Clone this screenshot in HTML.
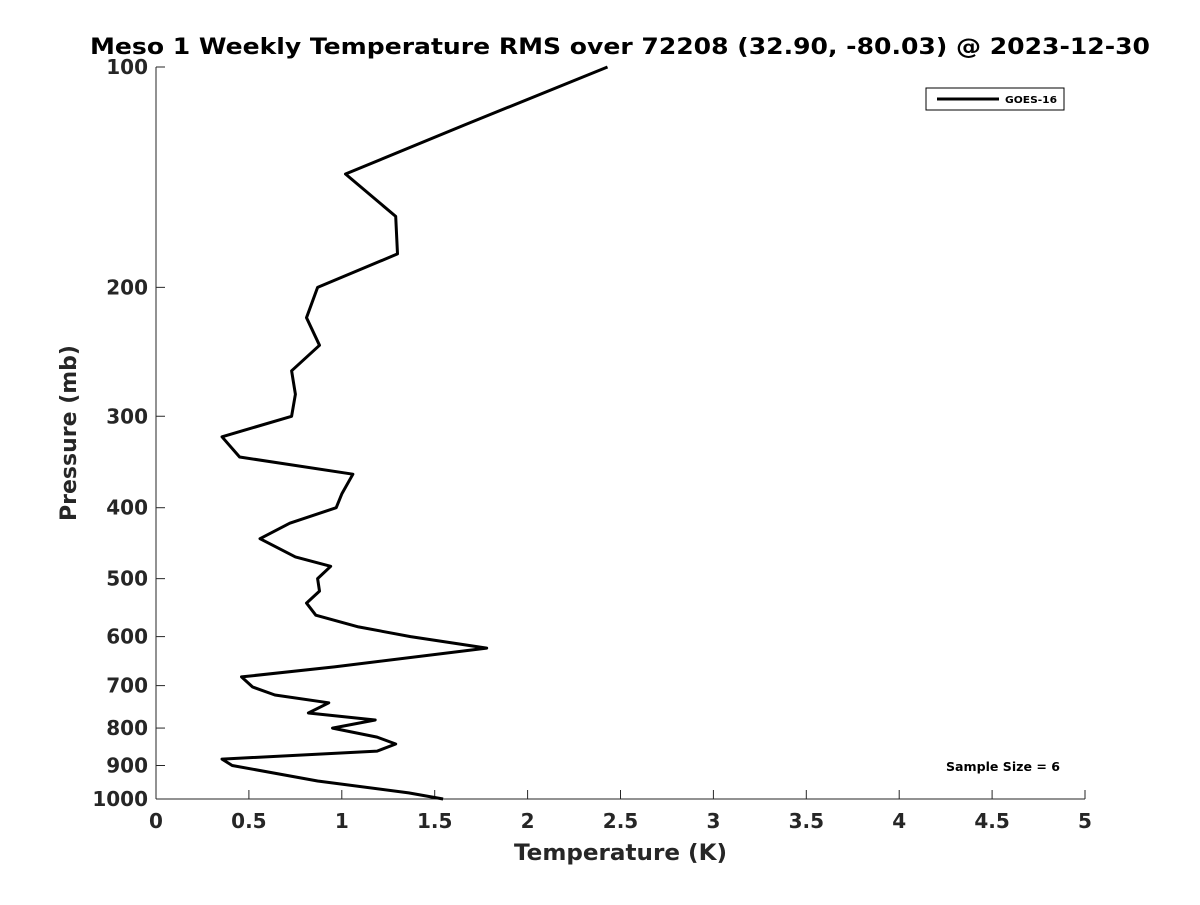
<!DOCTYPE html>
<html><head><meta charset="utf-8"><style>
body{margin:0;background:#fff;}
svg{font-family:"DejaVu Sans","Liberation Sans",sans-serif;font-weight:bold;}
</style></head><body>
<svg id="chart" width="1200" height="900">
<rect width="1200" height="900" fill="#fff"/>
<text x="90" y="54" font-size="22" textLength="1060" lengthAdjust="spacingAndGlyphs">Meso 1 Weekly Temperature RMS over 72208 (32.90, -80.03) @ 2023-12-30</text>
<g id="axes"></g>
<path id="line" fill="none" stroke="#000" stroke-width="3" stroke-linejoin="round"/>
<g>
<rect x="926" y="88" width="138" height="22" fill="#fff" stroke="#000" stroke-width="1"/>
<line x1="937" y1="99" x2="999" y2="99" stroke="#000" stroke-width="3"/>
<text x="1005" y="103" font-size="10" textLength="52" lengthAdjust="spacingAndGlyphs">GOES-16</text>
</g>
<text x="946" y="771" font-size="12" textLength="114" lengthAdjust="spacingAndGlyphs">Sample Size = 6</text>
<text x="514" y="860" font-size="22" textLength="213" lengthAdjust="spacingAndGlyphs" fill="#262626">Temperature (K)</text>
<text transform="translate(76,433) rotate(-90)" text-anchor="middle" font-size="22" fill="#262626">Pressure (mb)</text>
</svg>
<script>
const temps=[2.43,1.66,1.02,1.29,1.30,0.87,0.81,0.88,0.73,0.75,0.73,0.355,0.45,1.06,1.0,0.97,0.72,0.56,0.75,0.94,0.87,0.88,0.81,0.86,1.09,1.37,1.78,0.96,0.46,0.52,0.64,0.93,0.82,1.18,0.95,1.19,1.29,1.19,0.355,0.41,0.87,1.36,1.545];
const pressures=[100,120,140,160,180,200,220,240,260,280,300,320,341,360,383,400,420,441,467,481,500,520,540,561,582,600,622,660,681,703,721,739,763,780,800,823,841,860,882,900,945,981,1000];
const xTicks=[0,0.5,1,1.5,2,2.5,3,3.5,4,4.5,5];
const xTickLabels=["0","0.5","1","1.5","2","2.5","3","3.5","4","4.5","5"];
const yTicks=[100,200,300,400,500,600,700,800,900,1000];
const X0=156,X1=1085,Y0=67,Y1=799;
const xs=v=>X0+(v/5)*(X1-X0);
const ys=p=>Y0+(Math.log10(p)-2)*(Y1-Y0);
const NS="http://www.w3.org/2000/svg";
const ax=document.getElementById('axes');
function mk(t,a){const e=document.createElementNS(NS,t);for(const k in a)e.setAttribute(k,a[k]);ax.appendChild(e);return e;}
let l=mk('line',{x1:X0,y1:Y0,x2:X0,y2:Y1,stroke:'#262626','stroke-width':1});


l=mk('line',{x1:X0,y1:Y1,x2:X1,y2:Y1,stroke:'#262626','stroke-width':1});


xTicks.forEach((v,i)=>{
 const x=xs(v);
 mk('line',{x1:x,y1:Y1,x2:x,y2:Y1-9,stroke:'#262626'});
 const t=mk('text',{x:x,y:Y1+29,'text-anchor':'middle','font-size':20,fill:'#262626'});
 t.textContent=xTickLabels[i];
 
 
});
yTicks.forEach(p=>{
 const y=ys(p);
 mk('line',{x1:X0,y1:y,x2:X0+9,y2:y,stroke:'#262626'});
 const t=mk('text',{x:X0-8,y:y+7,'text-anchor':'end','font-size':20,fill:'#262626'});
 t.textContent=p;
 
 
});
document.getElementById('line').setAttribute('d',temps.map((t,i)=>(i?'L':'M')+xs(t).toFixed(1)+','+ys(pressures[i]).toFixed(1)).join(''));
</script>
</body></html>
